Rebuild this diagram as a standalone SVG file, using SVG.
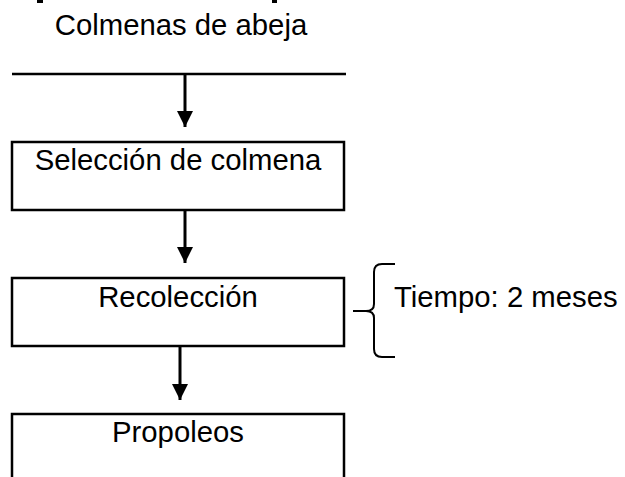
<svg xmlns="http://www.w3.org/2000/svg" width="625" height="477" viewBox="0 0 625 477">
<style>
.box{fill:#fff;stroke:#000;stroke-width:2.5}
.lbl{font-family:"Liberation Sans",Arial,sans-serif;font-size:29.3px;fill:#000}
.c{text-anchor:middle}
.ln{stroke:#000;stroke-width:3;fill:none}
.br{stroke:#000;stroke-width:2;fill:none}
</style>
<defs>
<marker id="ah" markerWidth="16" markerHeight="16" viewBox="0 0 16 16" refX="16" refY="8" orient="auto" markerUnits="userSpaceOnUse">
<path d="M0,0 L16,8 L0,16 Z" fill="#000"/>
</marker>
</defs>
<rect x="37" y="0" width="6" height="3" fill="#000"/>
<rect x="272" y="0" width="5" height="3" fill="#000"/>
<g id="source">
<text class="lbl c" x="181" y="35">Colmenas de abeja</text>
<line x1="12" y1="74" x2="346" y2="74" stroke="#000" stroke-width="2.5"/>
</g>
<g id="connectors">
<line class="ln" x1="185" y1="74" x2="185" y2="127" marker-end="url(#ah)"/>
<line class="ln" x1="185" y1="210" x2="185" y2="263" marker-end="url(#ah)"/>
<line class="ln" x1="180" y1="346" x2="180" y2="400" marker-end="url(#ah)"/>
</g>
<g id="seleccion">
<rect class="box" x="12" y="142" width="332" height="68"/>
<text class="lbl c" x="178" y="170">Selección de colmena</text>
</g>
<g id="recoleccion">
<rect class="box" x="12" y="278" width="332" height="68"/>
<text class="lbl c" x="178" y="307">Recolección</text>
</g>
<g id="tiempo">
<path class="br" d="M395,264 L382,264 Q374,264 374,272 L374,304 Q374,311 366,311 L353,311 M366,311 Q374,311 374,318 L374,349 Q374,357 382,357 L395,357"/>
<text class="lbl" x="394" y="307">Tiempo: 2 meses</text>
</g>
<g id="propoleos">
<path class="box" d="M12,480 L12,414 L344,414 L344,480"/>
<text class="lbl c" x="178" y="442">Propoleos</text>
</g>
</svg>
